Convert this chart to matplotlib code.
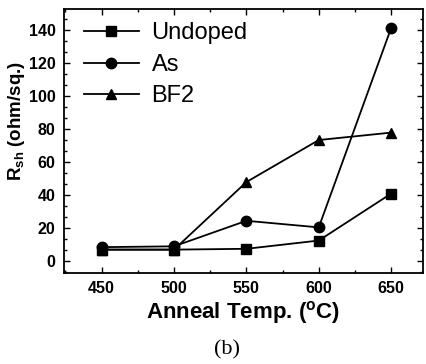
import matplotlib
matplotlib.use("Agg")
import matplotlib.pyplot as plt
from matplotlib.ticker import MultipleLocator, AutoMinorLocator

plt.rcParams['font.family'] = ['Liberation Sans', 'DejaVu Sans']
plt.rcParams['mathtext.fontset'] = 'custom'
plt.rcParams['mathtext.rm'] = 'Liberation Sans'
plt.rcParams['mathtext.bf'] = 'Liberation Sans:bold'
plt.rcParams['mathtext.it'] = 'Liberation Sans:italic'

temps = [450, 500, 550, 600, 650]
undoped = [7, 7, 7.5, 12.5, 41]
as_dop = [8.5, 9, 24.5, 20.5, 141.5]
bf2 = [7, 7, 48, 73.5, 78]

fig = plt.figure(figsize=(4.27, 3.64), dpi=100)
ax = fig.add_axes([64/427, 1-272.7/364, (423-64)/427, (272.7-9)/364])

kw = dict(color='black', lw=1.3, markersize=7.5)
ax.plot(temps, undoped, marker='s', label='Undoped', **kw)
ax.plot(temps, as_dop, marker='o', label='As', **kw)
ax.plot(temps, bf2, marker='^', label='BF2', **kw)

ax.set_xlim(424, 672)
ax.set_ylim(-7, 153)
ax.xaxis.set_major_locator(MultipleLocator(50))
ax.xaxis.set_minor_locator(MultipleLocator(25))
ax.yaxis.set_major_locator(MultipleLocator(20))
ax.yaxis.set_minor_locator(AutoMinorLocator(3))
ax.tick_params(which='both', direction='in', top=True, right=True, width=1.0)
ax.tick_params(which='major', length=4, labelsize=11.5, pad=6)
ax.tick_params(which='minor', length=2)
for lbl in ax.get_xticklabels() + ax.get_yticklabels():
    lbl.set_fontweight('bold')
for s in ax.spines.values():
    s.set_linewidth(1.3)

ax.set_xlabel('Anneal Temp. ($^{\\mathbf{o}}$C)', fontsize=16, fontweight='bold', labelpad=2)
ax.set_ylabel('R$_{\\mathbf{sh}}$ (ohm/sq.)', fontsize=13.5, fontweight='bold')
ax.yaxis.set_label_coords(-0.103, 0.575)

leg = ax.legend(loc='upper left', frameon=False, fontsize=17, handlelength=2.3,
                handletextpad=0.55, labelspacing=0.4, borderaxespad=0.0,
                bbox_to_anchor=(0.03, 0.985))

fig.text(227/427, 1-350/364, '(b)', ha='center', va='center', fontsize=16,
         family='Liberation Serif')

fig.savefig('out.png', dpi=100)
